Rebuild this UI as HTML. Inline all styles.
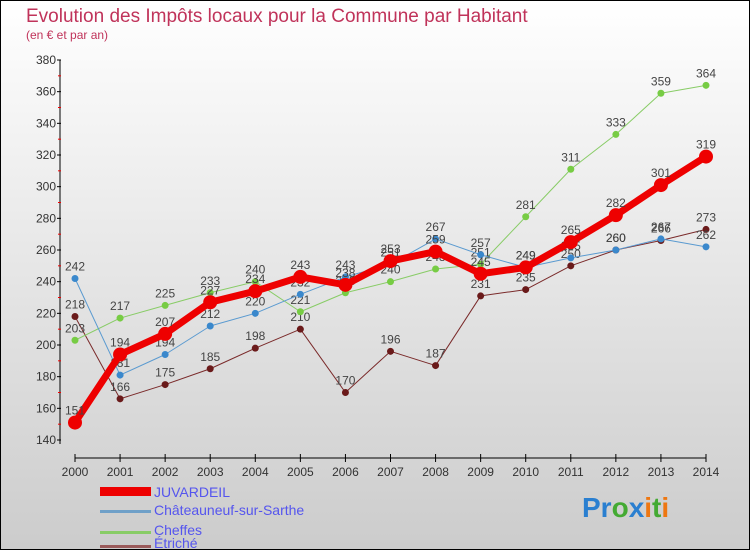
<!DOCTYPE html>
<html><head><meta charset="utf-8"><style>
body{margin:0;width:750px;height:550px;overflow:hidden;font-family:"Liberation Sans",sans-serif}
svg text{font-family:"Liberation Sans",sans-serif}
</style></head><body>
<svg width="750" height="550" xmlns="http://www.w3.org/2000/svg">
<defs><linearGradient id="bg" x1="0" y1="0" x2="0" y2="1"><stop offset="0" stop-color="#ffffff"/><stop offset="1" stop-color="#cccccc"/></linearGradient></defs>
<rect x="0.5" y="0.5" width="749" height="549" fill="url(#bg)" stroke="#000"/>
<text x="26" y="22" font-size="19" fill="#c0335a">Evolution des Impôts locaux pour la Commune par Habitant</text>
<text x="26" y="39" font-size="12" fill="#c0335a">(en € et par an)</text>
<g id="axes"></g><g id="series"></g>
<g>
<rect x="100" y="487" width="51" height="9" fill="#e00"/>
<text x="154" y="497" font-size="14" fill="#5555ee">JUVARDEIL</text>
<rect x="100" y="510" width="51" height="3" fill="#6fa0c8"/>
<text x="154" y="515" font-size="14" fill="#5555ee">Châteauneuf-sur-Sarthe</text>
<rect x="100" y="531" width="51" height="3" fill="#88cc66"/>
<text x="154" y="535" font-size="14" fill="#5555ee">Cheffes</text>
<rect x="100" y="545" width="51" height="3" fill="#9a5a5a"/>
<text x="154" y="548" font-size="14" fill="#5555ee">Étriché</text>
</g>
<g font-size="28" font-weight="bold">
<text x="582" y="517"><tspan fill="#2a7fd0">Pr</tspan><tspan fill="#44aa33">o</tspan><tspan fill="#2a7fd0">x</tspan><tspan fill="#ee7711">i</tspan><tspan fill="#44aa33">t</tspan><tspan fill="#ee7711">i</tspan></text>
</g>
</svg>
<script>
const years=[2000,2001,2002,2003,2004,2005,2006,2007,2008,2009,2010,2011,2012,2013,2014];
const yTicks=[140,160,180,200,220,240,260,280,300,320,340,360,380];
const juvardeil=[151,194,207,227,234,243,238,253,259,245,249,265,282,301,319];
const chateauneuf=[242,181,194,212,220,232,243,251,267,257,249,255,260,267,262];
const cheffes=[203,217,225,233,240,221,233,240,248,251,281,311,333,359,364];
const etriche=[218,166,175,185,198,210,170,196,187,231,235,250,260,266,273];
const NS="http://www.w3.org/2000/svg";
const X=i=>75+i*(631/14);
const Y=v=>440-(v-140)*(380/240);
function mk(t,a,p){const e=document.createElementNS(NS,t);for(const k in a)e.setAttribute(k,a[k]);p.appendChild(e);return e;}
const ax=document.getElementById('axes');
const yl=mk('line',{x1:60,y1:60,x2:60,y2:444,stroke:'#000'},ax);


yTicks.forEach((v,i)=>{
  mk('line',{x1:57,y1:Y(v),x2:61,y2:Y(v),stroke:'#000'},ax);
  if(i<yTicks.length-1)mk('line',{x1:58,y1:Y(v+10),x2:61,y2:Y(v+10),stroke:'#e00'},ax);
  const t=mk('text',{x:56,y:Y(v)+4,'font-size':12,fill:'#333','text-anchor':'end'},ax);
  
  
  t.textContent=v;
});
const xl=mk('line',{x1:75,y1:458,x2:706,y2:458,stroke:'#000'},ax);


years.forEach((y,i)=>{
  mk('line',{x1:X(i),y1:454,x2:X(i),y2:462,stroke:'#000'},ax);
  const t=mk('text',{x:X(i),y:476,'font-size':12,fill:'#333','text-anchor':'middle'},ax);
  
  
  t.textContent=y;
});
const sg=document.getElementById('series');
const defs=[[etriche,'#7a2a2a','#6a1a1a',1,3.5,'etriche'],[cheffes,'#88cc66','#77cc44',1,3.5,'cheffes'],[chateauneuf,'#5a9ad0','#3a88cc',1,3.5,'chateauneuf'],[juvardeil,'#ee0000','#ee0000',7,7,'juvardeil']];
defs.forEach(([d,c,pc,w,r,n])=>{
  const g=mk('g',{},sg);
  
  
  const p=mk('polyline',{points:d.map((v,i)=>X(i)+','+Y(v)).join(' '),fill:'none',stroke:c,'stroke-width':w,'stroke-linejoin':'round'},g);
  
  
  d.forEach((v,i)=>{
    const pt=mk('circle',{cx:X(i),cy:Y(v),r:r,fill:pc},g);
    
    
    const t=mk('text',{x:X(i),y:Y(v)-8,'font-size':12,fill:'#444','text-anchor':'middle'},g);
    
    
    t.textContent=v;
  });
});
</script>
</body></html>
